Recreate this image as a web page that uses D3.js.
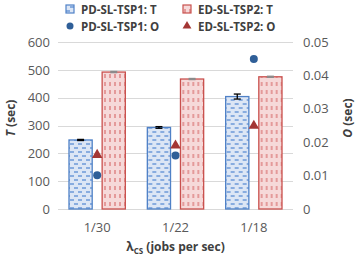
<!DOCTYPE html>
<html>
<head>
<meta charset="utf-8">
<script src="https://cdn.jsdelivr.net/npm/d3@7"></script>
<style>
  body { margin: 0; background: #fff; }
  svg text { font-family: "Open Sans", sans-serif; fill: #595959; }
</style>
</head>
<body>
<script>
// data
var categories = ["1/30", "1/22", "1/18"];
var pdT = [248, 293, 404];
var pdTErr = [2, 3, 9];
var edT = [492, 467, 475];
var edTErr = [2, 2, 2];
var pdO = [0.0101, 0.0160, 0.0449];
var edO = [0.0162, 0.0190, 0.0249];
var leftTicks = [0, 100, 200, 300, 400, 500, 600];
var rightTicks = [0, 0.01, 0.02, 0.03, 0.04, 0.05];

var W = 358, H = 255;
var margin = {top: 42, right: 65, bottom: 46, left: 58};
var plotW = W - margin.left - margin.right;
var plotH = H - margin.top - margin.bottom;

var svg = d3.select("body").append("svg")
    .attr("width", W)
    .attr("height", H);

var defs = svg.append("defs");

// blue dashed horizontal pattern
var pb = defs.append("pattern")
    .attr("id", "patBlue")
    .attr("patternUnits", "userSpaceOnUse")
    .attr("width", 8).attr("height", 8);
pb.append("rect").attr("width", 8).attr("height", 8).attr("fill", "#dce6f5");
pb.append("line").attr("x1", 0).attr("x2", 4).attr("y1", 2).attr("y2", 2)
    .attr("stroke", "#5b8dd4").attr("stroke-width", 1.3);
pb.append("line").attr("x1", 4).attr("x2", 8).attr("y1", 6).attr("y2", 6)
    .attr("stroke", "#5b8dd4").attr("stroke-width", 1.3);

// red vertical dashed pattern
var pr = defs.append("pattern")
    .attr("id", "patRed")
    .attr("patternUnits", "userSpaceOnUse")
    .attr("width", 5).attr("height", 8);
pr.append("rect").attr("width", 5).attr("height", 8).attr("fill", "#f6d9d9");
pr.append("line").attr("x1", 2).attr("x2", 2).attr("y1", 0).attr("y2", 4)
    .attr("stroke", "#dd7f7f").attr("stroke-width", 1.4);

var g = svg.append("g")
    .attr("transform", "translate(" + margin.left + "," + margin.top + ")");

var x0 = d3.scaleBand().domain(categories).range([0, plotW]);
var x1 = d3.scaleBand().domain(["pd", "ed"]).range([11, x0.bandwidth() - 11]).paddingInner(0.3);
var yL = d3.scaleLinear().domain([0, 600]).range([plotH, 0]);
var yR = d3.scaleLinear().domain([0, 0.05]).range([plotH, 0]);

// gridlines
g.append("g").selectAll("line")
    .data(leftTicks)
    .enter().append("line")
    .attr("x1", 0).attr("x2", plotW)
    .attr("y1", function(d) { return Math.round(yL(d)) + 0.5; })
    .attr("y2", function(d) { return Math.round(yL(d)) + 0.5; })
    .attr("stroke", "#d9d9d9").attr("stroke-width", 1);

// left axis
var axL = g.append("g")
    .call(d3.axisLeft(yL).tickValues(leftTicks).tickSize(0).tickPadding(8));
axL.select(".domain").remove();
axL.selectAll("text").style("font-size", "13px").attr("fill", "#595959");

// right axis
var axR = g.append("g")
    .attr("transform", "translate(" + plotW + ",0)")
    .call(d3.axisRight(yR).tickValues(rightTicks).tickSize(0).tickPadding(10)
        .tickFormat(function(d) { return d === 0 ? "0" : d3.format(".2f")(d); }));
axR.select(".domain").remove();
axR.selectAll("text").style("font-size", "13px").attr("fill", "#595959");

// x axis
var axB = g.append("g")
    .attr("transform", "translate(0," + plotH + ")")
    .call(d3.axisBottom(x0).tickSize(0).tickPadding(14));
axB.select(".domain").remove();
axB.selectAll("text").style("font-size", "13px").attr("fill", "#595959");

// bars
var groups = g.append("g").selectAll("g")
    .data(categories)
    .enter().append("g")
    .attr("transform", function(d) { return "translate(" + x0(d) + ",0)"; });

groups.append("rect")
    .attr("x", x1("pd"))
    .attr("y", function(d, i) { return yL(pdT[i]); })
    .attr("width", x1.bandwidth())
    .attr("height", function(d, i) { return plotH - yL(pdT[i]); })
    .attr("fill", "url(#patBlue)")
    .attr("stroke", "#4f81c7").attr("stroke-width", 1.3);

groups.append("rect")
    .attr("x", x1("ed"))
    .attr("y", function(d, i) { return yL(edT[i]); })
    .attr("width", x1.bandwidth())
    .attr("height", function(d, i) { return plotH - yL(edT[i]); })
    .attr("fill", "url(#patRed)")
    .attr("stroke", "#c9504d").attr("stroke-width", 1.3);

// error bars
function errBars(key, vals, errs, color) {
    var cx = function() { return x1(key) + x1.bandwidth() / 2; };
    var eb = groups.append("g").attr("stroke", color).attr("stroke-width", 1.3);
    eb.append("line")
        .attr("x1", cx).attr("x2", cx)
        .attr("y1", function(d, i) { return yL(vals[i] + errs[i]); })
        .attr("y2", function(d, i) { return yL(vals[i] - errs[i]); });
    [1, -1].forEach(function(s) {
        eb.append("line")
            .attr("x1", function() { return cx() - 3.5; })
            .attr("x2", function() { return cx() + 3.5; })
            .attr("y1", function(d, i) { return yL(vals[i] + s * errs[i]); })
            .attr("y2", function(d, i) { return yL(vals[i] + s * errs[i]); });
    });
}
errBars("pd", pdT, pdTErr, "#000");
errBars("ed", edT, edTErr, "#8c8c8c");

// O markers (secondary axis)
var tri = d3.symbol().type(d3.symbolTriangle).size(48);
groups.append("path")
    .attr("d", tri)
    .attr("transform", function(d, i) {
        return "translate(" + (x0.bandwidth() / 2) + "," + yR(edO[i]) + ")";
    })
    .attr("fill", "#a33634");

groups.append("circle")
    .attr("cx", x0.bandwidth() / 2)
    .attr("cy", function(d, i) { return yR(pdO[i]); })
    .attr("r", 4)
    .attr("fill", "#2f5f98");

// axis titles
var tL = svg.append("text")
    .attr("transform", "translate(15," + (margin.top + 76) + ") rotate(-90)")
    .attr("text-anchor", "middle")
    .style("font-size", "12px").style("font-weight", "bold").style("fill", "#404040");
tL.append("tspan").style("font-style", "italic").text("T");
tL.append("tspan").text(" (sec)");

var tR = svg.append("text")
    .attr("transform", "translate(352," + (margin.top + 76) + ") rotate(-90)")
    .attr("text-anchor", "middle")
    .style("font-size", "12px").style("font-weight", "bold").style("fill", "#404040");
tR.append("tspan").style("font-style", "italic").text("O");
tR.append("tspan").text(" (sec)");

var tX = svg.append("text")
    .attr("x", margin.left + plotW / 2)
    .attr("y", 251)
    .attr("text-anchor", "middle")
    .style("font-size", "12px").style("font-weight", "bold").style("fill", "#404040");
tX.append("tspan").text("\u03bb");
tX.append("tspan").attr("dy", 3).style("font-size", "8px").text("CS");
tX.append("tspan").attr("dy", -3).text(" (jobs per sec)");

// legend
var legendItems = [
    {label: "PD-SL-TSP1: T", kind: "barBlue", x: 66, y: 9},
    {label: "ED-SL-TSP2: T", kind: "barRed", x: 183, y: 9},
    {label: "PD-SL-TSP1: O", kind: "circle", x: 66, y: 26},
    {label: "ED-SL-TSP2: O", kind: "tri", x: 183, y: 26}
];
var lg = svg.append("g").selectAll("g")
    .data(legendItems)
    .enter().append("g")
    .attr("transform", function(d) { return "translate(" + d.x + "," + d.y + ")"; });

lg.each(function(d) {
    var s = d3.select(this);
    if (d.kind === "barBlue") {
        s.append("rect").attr("x", 0).attr("y", -4).attr("width", 8).attr("height", 8)
            .attr("fill", "url(#patBlue)").attr("stroke", "#4f81c7").attr("stroke-width", 1.2);
    } else if (d.kind === "barRed") {
        s.append("rect").attr("x", 0).attr("y", -4).attr("width", 8).attr("height", 8)
            .attr("fill", "url(#patRed)").attr("stroke", "#c9504d").attr("stroke-width", 1.2);
    } else if (d.kind === "circle") {
        s.append("circle").attr("cx", 4).attr("cy", 0).attr("r", 3.5).attr("fill", "#2f5f98");
    } else {
        s.append("path").attr("d", d3.symbol().type(d3.symbolTriangle).size(34))
            .attr("transform", "translate(4,0)").attr("fill", "#a33634");
    }
    s.append("text").attr("x", 15).attr("y", 4.5)
        .style("font-size", "11.5px").style("font-weight", "bold").style("fill", "#404040")
        .text(d.label);
});
</script>
</body>
</html>
